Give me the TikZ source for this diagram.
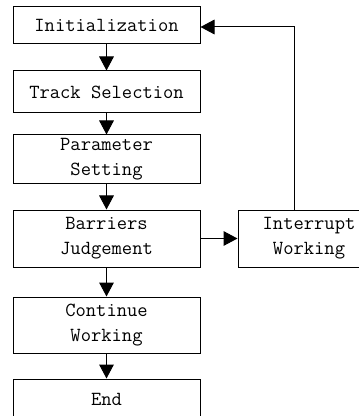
\documentclass[tikz,border=0pt]{standalone}
\usepackage{tikz}
\usetikzlibrary{arrows.meta, calc}

\tikzset{
    stepbox/.style={draw, line width=0.75pt, rectangle, align=center, inner sep=0pt,
        font=\ttfamily\fontsize{15}{18.75}\selectfont},
    flow/.style={->, line width=0.75pt}
}

\begin{document}
\begin{tikzpicture}[x=0.75pt, y=-0.75pt, >={Triangle[length=10.5pt, width=11pt]}]
    \useasboundingbox (0,0) rectangle (359,416);
    \node[stepbox, minimum width=140.25pt, minimum height=27.75pt] (init) at (106.5,25.5) {Initialization};
    \node[stepbox, minimum width=140.25pt, minimum height=31.5pt] (track) at (106.5,92) {Track Selection};
    \node[stepbox, minimum width=140.25pt, minimum height=36.75pt] (param) at (106.5,159.5) {Parameter\\Setting};
    \node[stepbox, minimum width=140.25pt, minimum height=42.75pt] (barr) at (106.5,238.5) {Barriers\\Judgement};
    \node[stepbox, minimum width=140.25pt, minimum height=42pt] (cont) at (106.5,325) {Continue\\Working};
    \node[stepbox, minimum width=140.25pt, minimum height=30pt] (end) at (106.5,399) {End};
    \node[stepbox, minimum width=106.5pt, minimum height=42.75pt] (intr) at (309,238.5) {Interrupt\\Working};
    \coordinate (turn) at (294,27);

    \draw[flow] (init) -- (track);
    \draw[flow] (track) -- (param);
    \draw[flow] (param) -- (barr);
    \draw[flow] (barr) -- (cont);
    \draw[flow] (cont) -- (end);
    \draw[flow] (barr) -- (intr);
    \draw[flow] (intr.north -| turn) -- (turn) -- (init.east |- turn);
\end{tikzpicture}
\end{document}
